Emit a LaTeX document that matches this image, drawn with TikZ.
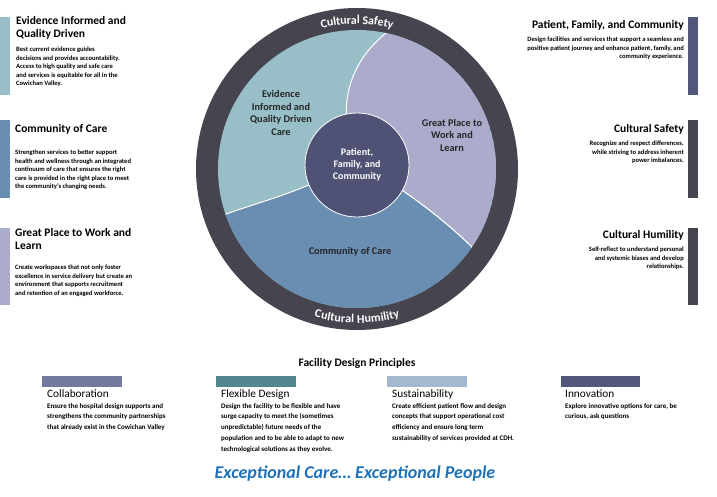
\documentclass[tikz,border=0pt]{standalone}
\usepackage{fontspec}
\setmainfont{Carlito}
\usetikzlibrary{decorations.text}
\definecolor{ringc}{HTML}{46454F}
\definecolor{tealc}{HTML}{98BEC7}
\definecolor{lavc}{HTML}{ABACCB}
\definecolor{bluec}{HTML}{6A8DB2}
\definecolor{hubc}{HTML}{4F5275}
\definecolor{navyc}{HTML}{54577D}
\definecolor{collabc}{HTML}{7479A0}
\definecolor{flexc}{HTML}{528690}
\definecolor{sustc}{HTML}{A4B9CF}
\definecolor{tagc}{HTML}{1F72B8}
\tikzset{
  sidetitle/.style={font=\fontsize{11.5}{13.5}\selectfont\bfseries, inner sep=0pt, align=left},
  sidebody/.style={font=\fontsize{6.6}{8.4}\selectfont\bfseries, inner sep=0pt},
  princtitle/.style={font=\fontsize{11.3}{13}\selectfont, inner sep=0pt, anchor=north west},
  princbody/.style={font=\fontsize{7}{10.8}\selectfont\bfseries, inner sep=0pt, anchor=north west, align=left},
  sectlabel/.style={font=\fontsize{10.3}{12.5}\selectfont\bfseries, text=black!85, align=center},
  bar/.style={fill=#1, draw=none},
  ringtext/.style={decorate, decoration={text along path, text align=center, raise=-4pt,
      text={|\fontsize{12}{14}\selectfont\bfseries\color{white}|#1}}}
}
\begin{document}
\begin{tikzpicture}[x=1pt,y=1pt]
\useasboundingbox (0,0) rectangle (717,-497);
\coordinate (c) at (357,-169);
% ring and sectors
\fill[ringc] (c) circle (161);
\begin{scope}
  \clip (c) circle (139);
  \fill[tealc] (c) circle (139);
  \fill[lavc, draw=white, line width=1pt] (405,-20) .. controls (345,-55) and (335,-110) .. (357,-160)
     .. controls (410,-195) and (440,-215) .. (480,-255) -- (520,-255) -- (520,-20) -- cycle;
  \fill[bluec, draw=white, line width=1pt] (205,-222) .. controls (260,-200) and (300,-195) .. (357,-160)
     .. controls (410,-195) and (440,-215) .. (480,-255) -- (480,-330) -- (205,-330) -- cycle;
\end{scope}
\node[circle, fill=hubc, draw=white, line width=0.8pt, minimum size=104pt,
  font=\fontsize{10}{12}\selectfont\bfseries, text=white, align=center] (hub) at (357,-165)
  {Patient,\\Family, and\\Community};
\path[ringtext=Cultural Safety] (c) ++(122:149) arc (122:58:149);
\path[ringtext=Cultural Humility] (c) ++(234:150) arc (234:306:150);
\node[sectlabel] (evid) at (281,-113) {Evidence\\Informed and\\Quality Driven\\Care};
\node[sectlabel] (great) at (452,-135) {Great Place to\\Work and\\Learn};
\node[sectlabel] (comm) at (350,-252) {Community of Care};
% left column
\fill[bar=tealc] (0,-17) rectangle (10,-95);
\fill[bar=bluec] (0,-120) rectangle (10,-198);
\fill[bar=lavc] (0,-228) rectangle (10,-305);
\node[sidetitle, anchor=north west] (t1) at (16,-16) {Evidence Informed and\\Quality Driven};
\node[sidebody, anchor=north west, align=left] (b1) at (16,-47) {Best current evidence guides\\decisions and provides accountability.\\Access to high quality and safe care\\and services is equitable for all in the\\Cowichan Valley.};
\node[sidetitle, anchor=north west] (t2) at (15,-124) {Community of Care};
\node[sidebody, anchor=north west, align=left] (b2) at (15,-150) {Strengthen services to better support\\health and wellness through an integrated\\continuum of care that ensures the right\\care is provided in the right place to meet\\the community's changing needs.};
\node[sidetitle, anchor=north west] (t3) at (15,-228) {Great Place to Work and\\Learn};
\node[sidebody, anchor=north west, align=left] (b3) at (15,-265) {Create workspaces that not only foster\\excellence in service delivery but create an\\environment that supports recruitment\\and retention of an engaged workforce.};
% right column
\fill[bar=navyc] (688,-17) rectangle (698,-95);
\fill[bar=ringc] (688,-120) rectangle (698,-198);
\fill[bar=ringc] (688,-228) rectangle (698,-305);
\node[sidetitle, anchor=north east] (t4) at (684,-20) {Patient, Family, and Community};
\node[sidebody, anchor=north east, align=right] (b4) at (684,-37) {Design facilities and services that support a seamless and\\positive patient journey and enhance patient, family, and\\community experience.};
\node[sidetitle, anchor=north east] (t5) at (684,-124) {Cultural Safety};
\node[sidebody, anchor=north east, align=right] (b5) at (684,-141) {Recognize and respect differences,\\while striving to address inherent\\power imbalances.};
\node[sidetitle, anchor=north east] (t6) at (684,-230) {Cultural Humility};
\node[sidebody, anchor=north east, align=right] (b6) at (684,-247) {Self-reflect to understand personal\\and systemic biases and develop\\relationships.};
% bottom principles
\node[font=\fontsize{11.5}{13}\selectfont\bfseries] (fdp) at (357,-363) {Facility Design Principles};
\fill[bar=collabc] (42,-376) rectangle (122,-387);
\fill[bar=flexc] (216,-376) rectangle (296,-387);
\fill[bar=sustc] (387,-376) rectangle (467,-387);
\fill[bar=navyc] (561,-376) rectangle (640,-387);
\node[princtitle] (p1) at (47,-389) {Collaboration};
\node[princbody] (q1) at (47,-403) {Ensure the hospital design supports and\\strengthens the community partnerships\\that already exist in the Cowichan Valley};
\node[princtitle] (p2) at (221,-389) {Flexible Design};
\node[princbody] (q2) at (221,-403) {Design the facility to be flexible and have\\surge capacity to meet the (sometimes\\unpredictable) future needs of the\\population and to be able to adapt to new\\technological solutions as they evolve.};
\node[princtitle] (p3) at (392,-389) {Sustainability};
\node[princbody] (q3) at (392,-403) {Create efficient patient flow and design\\concepts that support operational cost\\efficiency and ensure long term\\sustainability of services provided at CDH.};
\node[princtitle] (p4) at (565,-389) {Innovation};
\node[princbody] (q4) at (565,-403) {Explore innovative options for care, be\\curious, ask questions};
\node[font=\fontsize{18}{20}\selectfont\bfseries\itshape, text=tagc] (tag) at (355,-474) {Exceptional Care… Exceptional People};
\end{tikzpicture}
\end{document}
